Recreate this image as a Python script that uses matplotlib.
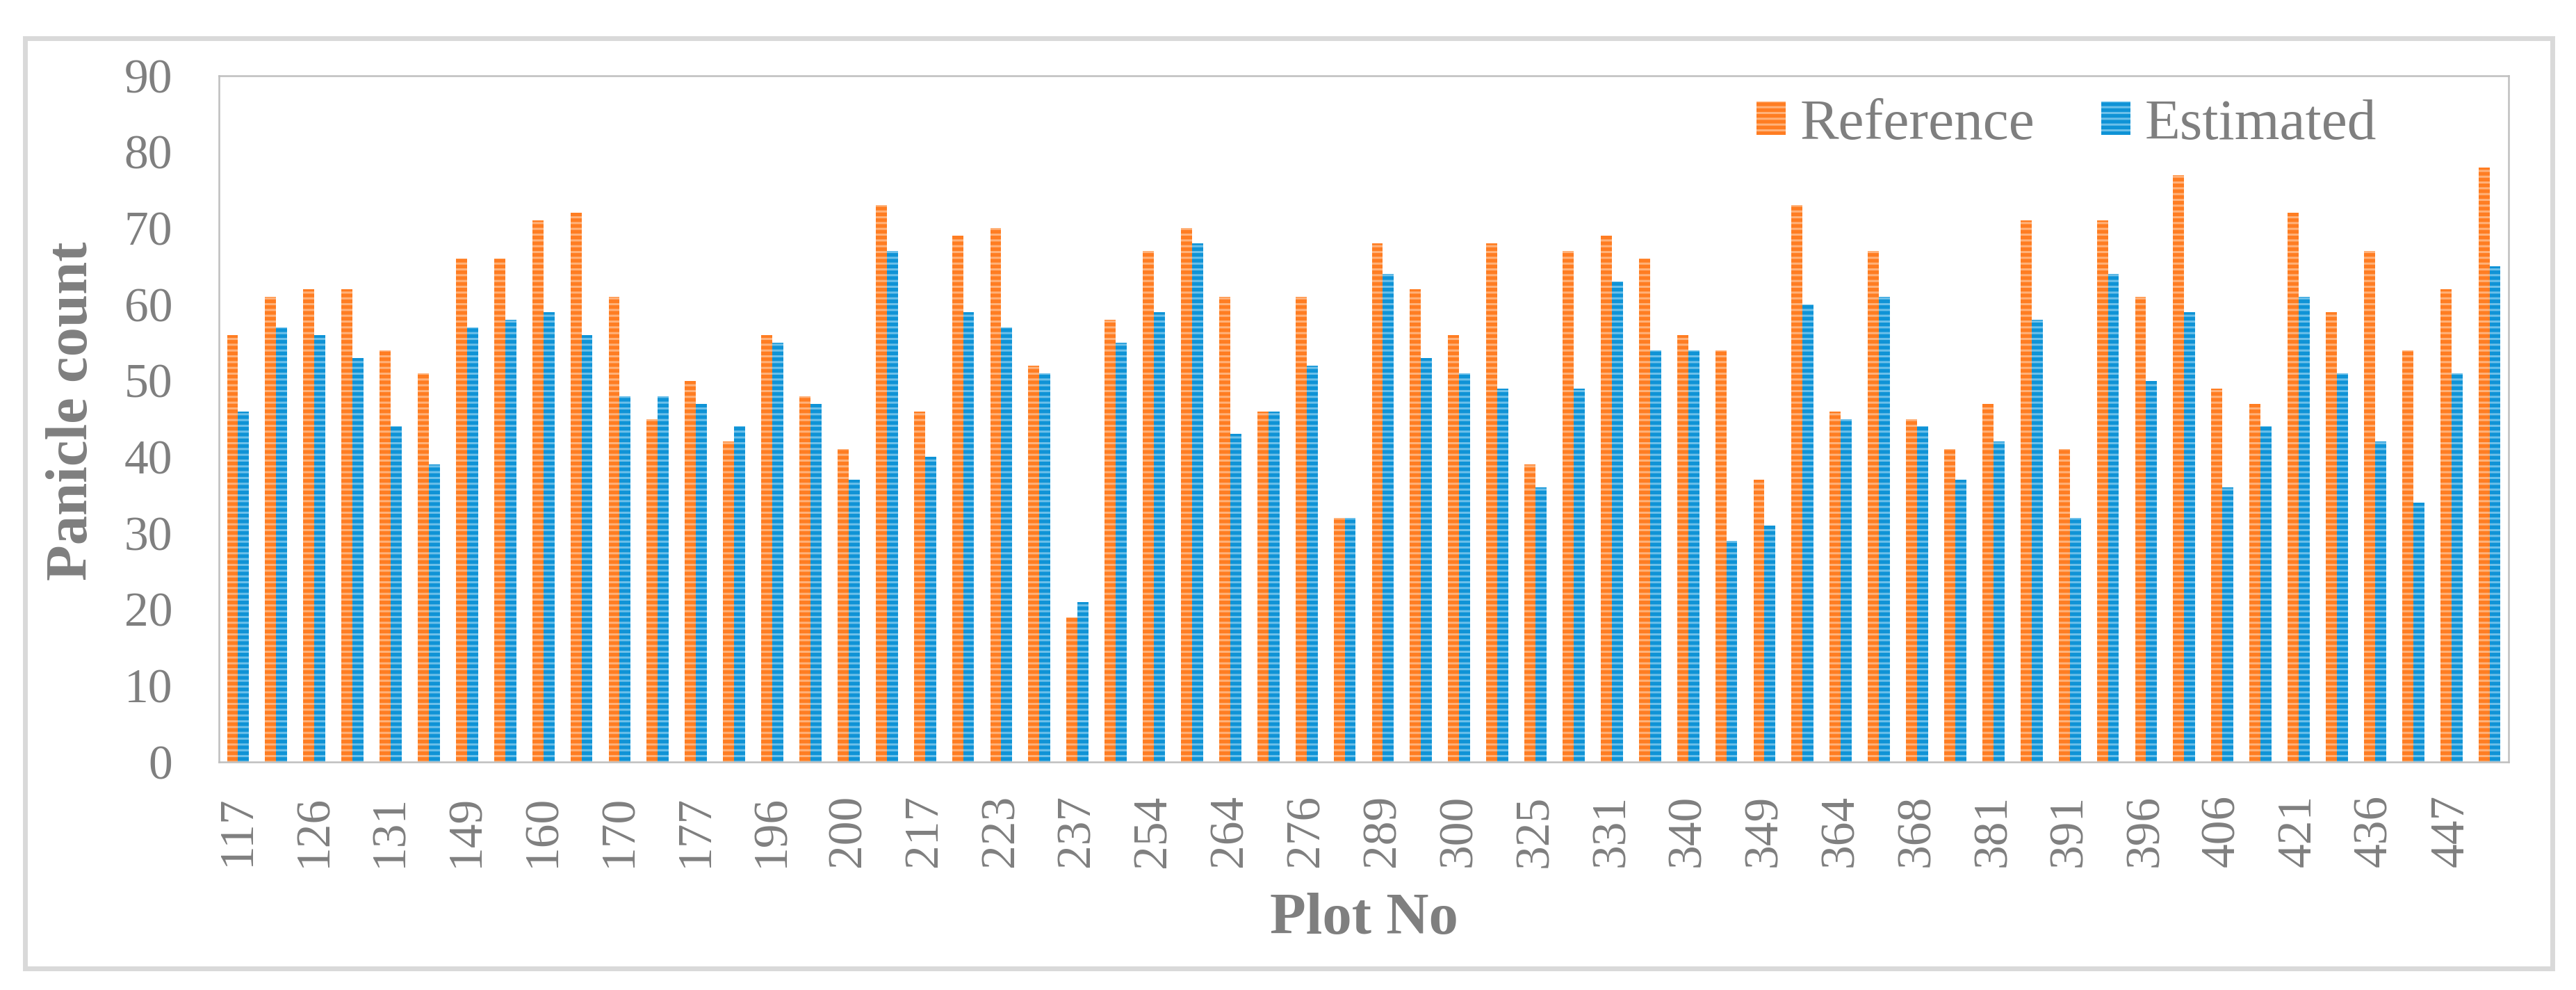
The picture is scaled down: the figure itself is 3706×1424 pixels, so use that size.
import matplotlib
matplotlib.use("Agg")
import matplotlib.pyplot as plt
from matplotlib.patches import Rectangle
import numpy as np

# ---- data ----
reference = [56, 61, 62, 62, 54, 51, 66, 66, 71, 72,
             61, 45, 50, 42, 56, 48, 41, 73, 46, 69,
             70, 52, 19, 58, 67, 70, 61, 46, 61, 32,
             68, 62, 56, 68, 39, 67, 69, 66, 56, 54,
             37, 73, 46, 67, 45, 41, 47, 71, 41, 71,
             61, 77, 49, 47, 72, 59, 67, 54, 62, 78]
estimated = [46, 57, 56, 53, 44, 39, 57, 58, 59, 56,
             48, 48, 47, 44, 55, 47, 37, 67, 40, 59,
             57, 51, 21, 55, 59, 68, 43, 46, 52, 32,
             64, 53, 51, 49, 36, 49, 63, 54, 54, 29,
             31, 60, 45, 61, 44, 37, 42, 58, 32, 64,
             50, 59, 36, 44, 61, 51, 42, 34, 51, 65]
# only every second plot number is labelled on the axis
shown_plot_labels = ["117", "126", "131", "149", "160", "170", "177", "196", "200", "217",
                     "223", "237", "254", "264", "276", "289", "300", "325", "331", "340",
                     "349", "364", "368", "381", "391", "396", "406", "421", "436", "447"]
series_names = ["Reference", "Estimated"]
y_ticks = [0, 10, 20, 30, 40, 50, 60, 70, 80, 90]

# ---- style ----
W, H, DPI = 3706, 1424, 100
GRAY = "#7f7f7f"
ORANGE, ORANGE_L = "#ff7d22", "#ffb27a"
BLUE, BLUE_L = "#0f93d6", "#6cc0ea"
plt.rcParams["font.family"] = ["Liberation Serif", "DejaVu Serif"]
plt.rcParams["hatch.linewidth"] = 2.2

fig = plt.figure(figsize=(W / DPI, H / DPI), dpi=DPI)
fig.patch.set_facecolor("white")

L, R, T, B = 315, 3609, 109, 1096
ax = fig.add_axes([L / W, 1 - B / H, (R - L) / W, (B - T) / H])

n = len(reference)
x = np.arange(n)
bw = 0.29
b1 = ax.bar(x - bw / 2, reference, width=bw, color=ORANGE, edgecolor=ORANGE_L,
            linewidth=0, hatch="--", label=series_names[0])
b2 = ax.bar(x + bw / 2, estimated, width=bw, color=BLUE, edgecolor=BLUE_L,
            linewidth=0, hatch="--", label=series_names[1])

ax.set_xlim(-0.5, n - 0.5)
ax.set_ylim(0, 90)
ax.set_yticks(y_ticks)
ax.set_yticklabels([str(v) for v in y_ticks])
ax.set_xticks(x[::2])
ax.set_xticklabels(shown_plot_labels, rotation=90)
ax.tick_params(axis="y", length=0, pad=48, labelsize=50, labelcolor=GRAY)
ax.tick_params(axis="x", length=0, pad=34, labelsize=50, labelcolor=GRAY)
for s in ax.spines.values():
    s.set_color("#bfbfbf")
    s.set_linewidth(1.8)

fig.text(105 / W, 1 - 591 / H, "Panicle count", rotation=90, ha="center", va="center",
         fontsize=61, fontweight="bold", color=GRAY)
fig.text((L + R) / 2 / W, 1 - 1322 / H, "Plot No", ha="center", va="center",
         fontsize=61, fontweight="bold", color=GRAY)

leg = fig.legend(handles=[b1, b2], labels=series_names, loc="center left",
                 bbox_to_anchor=(2527 / W, 1 - 180 / H), ncol=2, frameon=False,
                 fontsize=60, handlelength=0.5, handleheight=0.5, handletextpad=0.25,
                 columnspacing=1.15, borderpad=0, borderaxespad=0)
for t in leg.get_texts():
    t.set_color(GRAY)

# outer chart border
fig.add_artist(Rectangle((36 / W, 1 - 1393 / H), (3672 - 36) / W, (1393 - 55) / H,
                         transform=fig.transFigure, fill=False, edgecolor="#d9d9d9",
                         linewidth=5))

fig.savefig("out.png", dpi=DPI, facecolor="white")
